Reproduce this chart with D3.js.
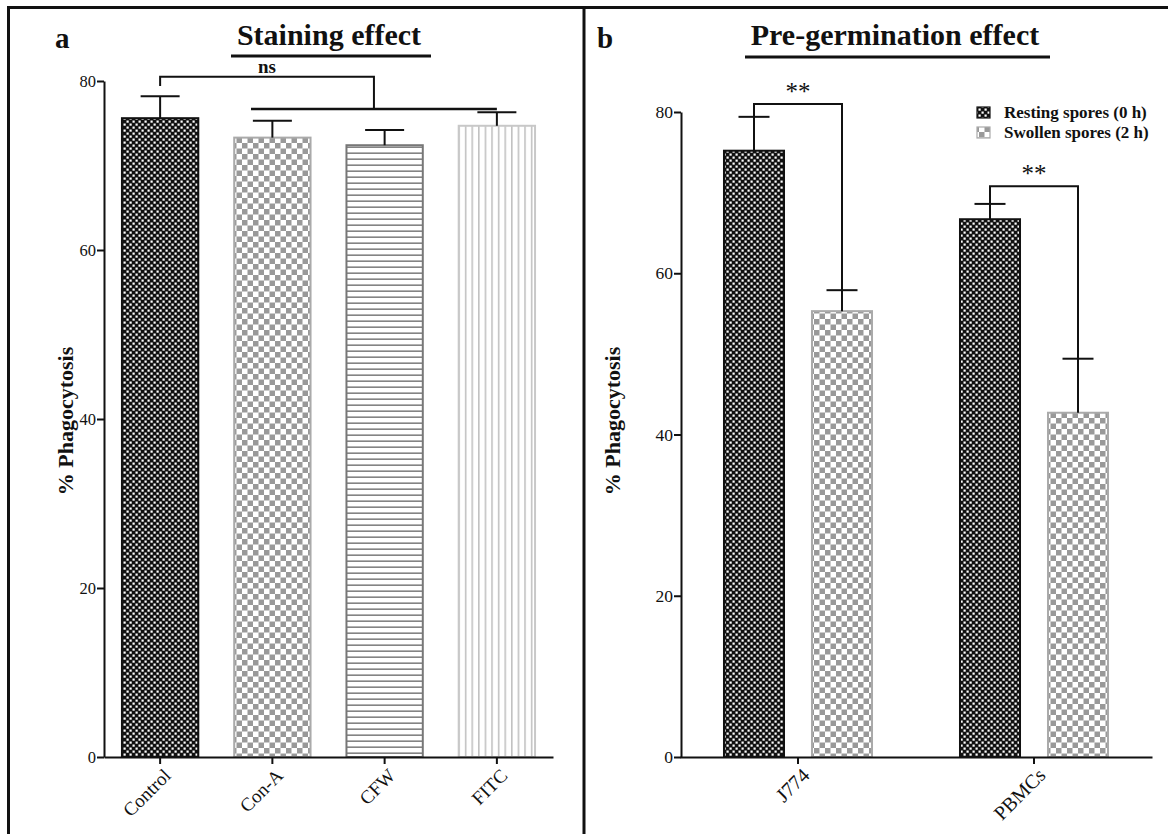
<!DOCTYPE html>
<html>
<head>
<meta charset="utf-8">
<script src="https://cdn.jsdelivr.net/npm/d3@7/dist/d3.min.js"></script>
<style>
  html, body { margin: 0; padding: 0; background: #fff; }
  svg { display: block; }
  svg text { font-family: "Liberation Serif", "Times New Roman", Times, serif !important; fill: #111; }
  svg text.bold { font-weight: bold; }
</style>
</head>
<body>
<svg id="chart" width="1168" height="834"></svg>
<script>
// ---------- DATA ----------
const yTicks = [0, 20, 40, 60, 80];

// Panel a: Staining effect
const stainCats = ["Control", "Con-A", "CFW", "FITC"];
const stainMean = [75.6, 73.3, 72.4, 74.7];
const stainErr  = [2.6, 2.0, 1.8, 1.6];

// Panel b: Pre-germination effect
const germGroups  = ["J774", "PBMCs"];
const germSeries  = ["Resting spores (0 h)", "Swollen spores (2 h)"];
const restingMean = [75.2, 66.7];
const restingErr  = [4.2, 1.9];
const swollenMean = [55.3, 42.7];
const swollenErr  = [2.6, 6.7];
const sigLabels   = ["**", "**"];
const sigTop      = [81.0, 70.8];

// ---------- SETUP ----------
const FONT = '"Liberation Serif", "Times New Roman", Times, serif';
const svg = d3.select("#chart");
const defs = svg.append("defs");

// dark fine checker
const pDark = defs.append("pattern").attr("id", "pDark").attr("patternUnits", "userSpaceOnUse")
  .attr("width", 6).attr("height", 6);
pDark.append("rect").attr("width", 6).attr("height", 6).attr("fill", "#111");
pDark.append("rect").attr("x", 0.5).attr("y", 0.5).attr("width", 2.2).attr("height", 2.2).attr("fill", "#fff");
pDark.append("rect").attr("x", 3.5).attr("y", 3.5).attr("width", 2.2).attr("height", 2.2).attr("fill", "#fff");

// light gray coarse checker
const pLight = defs.append("pattern").attr("id", "pLight").attr("patternUnits", "userSpaceOnUse")
  .attr("width", 11).attr("height", 11);
pLight.append("rect").attr("width", 11).attr("height", 11).attr("fill", "#fff");
pLight.append("rect").attr("width", 5.5).attr("height", 5.5).attr("fill", "#999");
pLight.append("rect").attr("x", 5.5).attr("y", 5.5).attr("width", 5.5).attr("height", 5.5).attr("fill", "#999");

// horizontal lines
const pHoriz = defs.append("pattern").attr("id", "pHoriz").attr("patternUnits", "userSpaceOnUse")
  .attr("width", 6).attr("height", 6);
pHoriz.append("rect").attr("width", 6).attr("height", 6).attr("fill", "#fff");
pHoriz.append("rect").attr("y", 2.5).attr("width", 6).attr("height", 1.3).attr("fill", "#666");

// vertical lines
const pVert = defs.append("pattern").attr("id", "pVert").attr("patternUnits", "userSpaceOnUse")
  .attr("width", 6.6).attr("height", 6);
pVert.append("rect").attr("width", 6.6).attr("height", 6).attr("fill", "#fff");
pVert.append("rect").attr("x", 3).attr("width", 1.3).attr("height", 6).attr("fill", "#b5b5b5");

const stainFill   = ["url(#pDark)", "url(#pLight)", "url(#pHoriz)", "url(#pVert)"];
const stainStroke = ["#111", "#aaa", "#777", "#c8c8c8"];

// frame
svg.append("rect").attr("x", 8.5).attr("y", 7.5).attr("width", 1180).attr("height", 850)
  .attr("fill", "none").attr("stroke", "#111").attr("stroke-width", 3);
svg.append("line").attr("x1", 584).attr("x2", 584).attr("y1", 7).attr("y2", 834)
  .attr("stroke", "#111").attr("stroke-width", 3);

function styleAxis(g, fs) {
  g.attr("font-family", null).attr("font-size", null);
  g.selectAll("path.domain").attr("stroke", "#111").attr("stroke-width", 2);
  g.selectAll(".tick line").attr("stroke", "#111").attr("stroke-width", 2);
  g.selectAll(".tick text").style("font-family", FONT)
    .style("font-size", fs + "px").attr("fill", "#111");
}
function boldText(sel, fs) {
  return sel.attr("class", "bold").style("font-size", fs + "px");
}

// ---------- PANEL A ----------
const yA = d3.scaleLinear().domain([0, 80]).range([757, 81]);
const xA = d3.scaleBand().domain(stainCats).range([104, 553]).paddingInner(0.32).paddingOuter(0.16);
const gA = svg.append("g");

gA.selectAll("rect.bar").data(stainCats).join("rect")
  .attr("x", d => xA(d)).attr("width", xA.bandwidth())
  .attr("y", (d, i) => yA(stainMean[i])).attr("height", (d, i) => yA(0) - yA(stainMean[i]))
  .attr("fill", (d, i) => stainFill[i]).attr("stroke", (d, i) => stainStroke[i]).attr("stroke-width", 2);

// error bars
const capA = 39;
stainCats.forEach((c, i) => {
  const cx = xA(c) + xA.bandwidth() / 2;
  gA.append("line").attr("x1", cx).attr("x2", cx).attr("y1", yA(stainMean[i]))
    .attr("y2", yA(stainMean[i] + stainErr[i])).attr("stroke", "#111").attr("stroke-width", 2);
  gA.append("line").attr("x1", cx - capA / 2).attr("x2", cx + capA / 2)
    .attr("y1", yA(stainMean[i] + stainErr[i])).attr("y2", yA(stainMean[i] + stainErr[i]))
    .attr("stroke", "#111").attr("stroke-width", 2);
});

// axes
const axA_y = gA.append("g").attr("transform", "translate(104,0)")
  .call(d3.axisLeft(yA).tickValues(yTicks).tickSize(7).tickSizeOuter(0).tickPadding(1));
styleAxis(axA_y, 16.5);
const axA_x = gA.append("g").attr("transform", "translate(0,757)")
  .call(d3.axisBottom(xA).tickSize(7).tickSizeOuter(0));
styleAxis(axA_x, 19);
axA_x.selectAll(".tick text").attr("text-anchor", "end").attr("dx", "-0.15em").attr("dy", "0.5em")
  .attr("transform", "translate(0,4) rotate(-45)");

// ns bracket
const nsTop = 80.5, nsLeftEnd = 79.4, nsLow = 76.7;
const cCtrl = xA("Control") + xA.bandwidth() / 2;
const lowStart = xA("Con-A") + xA.bandwidth() * 0.22;
const lowEnd = xA("FITC") + xA.bandwidth() * 0.5;
const mid = (lowStart + lowEnd) / 2;
gA.append("path")
  .attr("d", `M${cCtrl},${yA(nsLeftEnd)} V${yA(nsTop)} H${mid} V${yA(nsLow)}`)
  .attr("fill", "none").attr("stroke", "#111").attr("stroke-width", 2);
gA.append("line").attr("x1", lowStart).attr("x2", lowEnd).attr("y1", yA(nsLow)).attr("y2", yA(nsLow))
  .attr("stroke", "#111").attr("stroke-width", 2.5);
boldText(gA.append("text").attr("x", (cCtrl + mid) / 2).attr("y", yA(nsTop) - 4)
  .attr("text-anchor", "middle").text("ns"), 19);

// titles
boldText(gA.append("text").attr("x", 55).attr("y", 48).text("a"), 29);
boldText(gA.append("text").attr("x", 329).attr("y", 45).attr("text-anchor", "middle")
  .text("Staining effect"), 30);
gA.append("line").attr("x1", 231).attr("x2", 431).attr("y1", 56).attr("y2", 56)
  .attr("stroke", "#111").attr("stroke-width", 3);
boldText(gA.append("text").attr("transform", "translate(73,421) rotate(-90)").attr("text-anchor", "middle")
  .text("% Phagocytosis"), 22);

// ---------- PANEL B ----------
const yB = d3.scaleLinear().domain([0, 80]).range([757, 112]);
const xB = d3.scaleBand().domain(germGroups).range([680, 1152]);
const xSub = d3.scaleBand().domain(germSeries).range([30, 206]).paddingInner(0.318).paddingOuter(0.159);
const gB = svg.append("g");

const seriesMean = [restingMean, swollenMean];
const seriesErr = [restingErr, swollenErr];
const seriesFill = ["url(#pDark)", "url(#pLight)"];
const seriesStroke = ["#111", "#aaa"];
const capB = 31;

germSeries.forEach((s, si) => {
  germGroups.forEach((g, gi) => {
    const x0 = xB(g) + xSub(s);
    const v = seriesMean[si][gi], e = seriesErr[si][gi];
    gB.append("rect").attr("x", x0).attr("width", xSub.bandwidth())
      .attr("y", yB(v)).attr("height", yB(0) - yB(v))
      .attr("fill", seriesFill[si]).attr("stroke", seriesStroke[si]).attr("stroke-width", 2);
    const cx = x0 + xSub.bandwidth() / 2;
    gB.append("line").attr("x1", cx).attr("x2", cx).attr("y1", yB(v)).attr("y2", yB(v + e))
      .attr("stroke", "#111").attr("stroke-width", 2);
    gB.append("line").attr("x1", cx - capB / 2).attr("x2", cx + capB / 2).attr("y1", yB(v + e)).attr("y2", yB(v + e))
      .attr("stroke", "#111").attr("stroke-width", 2);
  });
});

// significance brackets
germGroups.forEach((g, gi) => {
  const cL = xB(g) + xSub(germSeries[0]) + xSub.bandwidth() / 2;
  const cR = xB(g) + xSub(germSeries[1]) + xSub.bandwidth() / 2;
  const lEnd = restingMean[gi] + restingErr[gi];
  const rEnd = swollenMean[gi] + swollenErr[gi];
  gB.append("path").attr("d", `M${cL},${yB(lEnd)} V${yB(sigTop[gi])} H${cR} V${yB(rEnd)}`)
    .attr("fill", "none").attr("stroke", "#111").attr("stroke-width", 2);
  gB.append("text").attr("x", (cL + cR) / 2).attr("y", yB(sigTop[gi]) - 4).attr("text-anchor", "middle")
    .style("font-size", "25px").text(sigLabels[gi]);
});

const axB_y = gB.append("g").attr("transform", "translate(681,0)")
  .call(d3.axisLeft(yB).tickValues(yTicks).tickSize(7).tickSizeOuter(0).tickPadding(1));
styleAxis(axB_y, 17.5);
const axB_x = gB.append("g").attr("transform", "translate(0,757)")
  .call(d3.axisBottom(xB).tickSize(7).tickSizeOuter(0));
styleAxis(axB_x, 20);
axB_x.selectAll(".tick text").attr("text-anchor", "end").attr("dx", "-0.1em").attr("dy", "0.5em")
  .attr("transform", "translate(0,4) rotate(-45)");

// legend
const leg = gB.append("g");
germSeries.forEach((s, i) => {
  const ly = 113 + i * 20;
  leg.append("rect").attr("x", 977).attr("y", ly - 6).attr("width", 13).attr("height", 11)
    .attr("fill", seriesFill[i]).attr("stroke", seriesStroke[i]).attr("stroke-width", 1.2);
  boldText(leg.append("text").attr("x", 1004).attr("y", ly + 5).text(s), 17);
});

boldText(gB.append("text").attr("x", 597).attr("y", 48).text("b"), 29);
boldText(gB.append("text").attr("x", 895).attr("y", 45).attr("text-anchor", "middle")
  .text("Pre-germination effect"), 30);
gB.append("line").attr("x1", 745).attr("x2", 1050).attr("y1", 57).attr("y2", 57)
  .attr("stroke", "#111").attr("stroke-width", 3);
boldText(gB.append("text").attr("transform", "translate(620,421) rotate(-90)").attr("text-anchor", "middle")
  .text("% Phagocytosis"), 22);
</script>
</body>
</html>
